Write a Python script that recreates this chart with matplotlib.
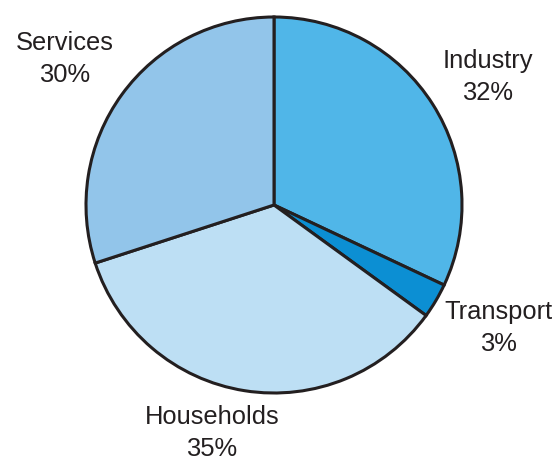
import matplotlib
matplotlib.use("Agg")
import matplotlib.pyplot as plt

sectors = ["Industry", "Transport", "Households", "Services"]
shares = [32, 3, 35, 30]
colors = ["#50b6e8", "#0c8fd3", "#bddff4", "#92c5ea"]
label_xy = [(488, 385), (498, 134), (212, 29), (65, 403)]

W, H = 558, 462
fig = plt.figure(figsize=(W / 100, H / 100), dpi=100)
ax = fig.add_axes([0, 0, 1, 1])

ax.pie(shares, colors=colors, startangle=90, counterclock=False,
       center=(274, 257), radius=188, frame=True,
       wedgeprops=dict(edgecolor="#231f20", linewidth=2.2))
ax.set_xlim(0, W)
ax.set_ylim(0, H)
ax.set_aspect("equal")
ax.axis("off")

for name, val, (x, y) in zip(sectors, shares, label_xy):
    ax.text(x, y, f"{name}\n{val}%", ha="center", va="center",
            fontsize=18.4, family="Liberation Sans", color="#231f20",
            linespacing=1.38)

fig.savefig("out.png", dpi=100)
